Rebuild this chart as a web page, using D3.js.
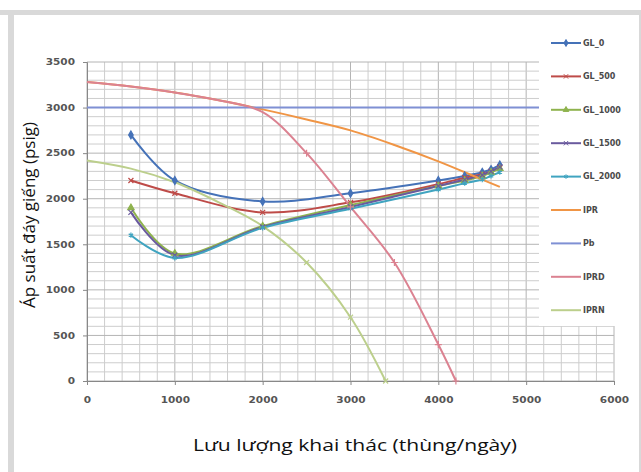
<!DOCTYPE html>
<html>
<head>
<meta charset="utf-8">
<script src="https://cdn.jsdelivr.net/npm/d3@7"></script>
<style>
  body { margin: 0; background: #fff; }
  svg { display: block; }
  .tick-label { font-family: "DejaVu Sans", sans-serif; font-size: 8.5px; fill: #555; font-weight: bold; }
  .legend-label { font-family: "DejaVu Sans", sans-serif; font-size: 8px; fill: #4a4a4a; font-weight: bold; }
  .axis-title { font-family: "Open Sans", sans-serif; font-size: 17px; fill: #111; }
</style>
</head>
<body>
<div id="chart"></div>
<script>
// flow rates (thùng/ngày) for the gas-lift curves
var flowGL = [500, 1000, 2000, 3000, 4000, 4300, 4500, 4600, 4700];
var gl0    = [2700, 2200, 1970, 2060, 2200, 2250, 2290, 2320, 2370];
var gl500  = [2200, 2060, 1850, 1960, 2160, 2230, 2270, 2300, 2340];
var gl1000 = [1900, 1400, 1700, 1930, 2140, 2200, 2250, 2290, 2330];
var gl1500 = [1850, 1380, 1690, 1910, 2140, 2210, 2260, 2300, 2350];
var gl2000 = [1600, 1350, 1680, 1890, 2100, 2170, 2210, 2250, 2290];

var flowIPR = [0, 500, 1000, 1500, 2000, 2500, 3000, 3500, 4000, 4500, 4700];
var ipr     = [3280, 3230, 3165, 3080, 2980, 2870, 2750, 2590, 2410, 2210, 2130];

var flowPb = [0, 6000];
var pb     = [3000, 3000];

var flowIPRD = [0, 500, 1000, 1500, 2000, 2500, 3000, 3500, 4000, 4200];
var iprd     = [3280, 3230, 3165, 3080, 2950, 2500, 1910, 1300, 400, 0];

var flowIPRN = [0, 500, 1000, 1500, 2000, 2500, 3000, 3400];
var iprn     = [2420, 2330, 2180, 1960, 1700, 1300, 700, 0];

var xTicks = [0, 1000, 2000, 3000, 4000, 5000, 6000];
var yTicks = [0, 500, 1000, 1500, 2000, 2500, 3000, 3500];

function zip(xs, ys) {
    return xs.map(function (x, i) { return {x: x, y: ys[i]}; });
}

var series = [
    {name: 'GL_0',    color: '#4572b8', data: zip(flowGL, gl0),    symbol: d3.symbolDiamond, fill: true},
    {name: 'GL_500',  color: '#be4b48', data: zip(flowGL, gl500),  symbol: d3.symbolTimes || d3.symbolCross},
    {name: 'GL_1000', color: '#8fb34e', data: zip(flowGL, gl1000), symbol: d3.symbolTriangle, fill: true},
    {name: 'GL_1500', color: '#6a5a9e', data: zip(flowGL, gl1500), symbol: d3.symbolTimes || d3.symbolCross},
    {name: 'GL_2000', color: '#40a4c0', data: zip(flowGL, gl2000), symbol: d3.symbolAsterisk || d3.symbolCross},
    {name: 'IPR',     color: '#f09545', data: zip(flowIPR, ipr)},
    {name: 'Pb',      color: '#7f90d4', data: zip(flowPb, pb)},
    {name: 'IPRD',    color: '#db8291', data: zip(flowIPRD, iprd), symbol: d3.symbolPlus || d3.symbolCross, markAfter: 2200},
    {name: 'IPRN',    color: '#bccf8c', data: zip(flowIPRN, iprn), symbol: d3.symbolTimes || d3.symbolCross, markAfter: 2200}
];

var width = 641, height = 472;
var stretch = 1.24;  // the reference text is a little wider than it is tall

var svg = d3.select('#chart').append('svg')
    .attr('width', width)
    .attr('height', height);

// outer frame
svg.append('rect').attr('x', 0).attr('y', 10).attr('width', width).attr('height', 5).attr('fill', '#d9d9d9');
svg.append('rect').attr('x', 8).attr('y', 10).attr('width', 6).attr('height', height - 10).attr('fill', '#d9d9d9');
svg.append('rect').attr('x', 639).attr('y', 10).attr('width', 2).attr('height', height - 10).attr('fill', '#d9d9d9');

var x = d3.scaleLinear().domain([0, 6000]).range([87, 614]);
var y = d3.scaleLinear().domain([0, 3500]).range([381, 62]);

// grid
var grid = svg.append('g').attr('class', 'grid');
grid.selectAll('line.v')
    .data(d3.range(0, 6001, 200))
  .enter().append('line')
    .attr('x1', function (d) { return x(d); })
    .attr('x2', function (d) { return x(d); })
    .attr('y1', y(0))
    .attr('y2', y(3500))
    .attr('stroke', function (d) { return d % 1000 === 0 ? '#b4b4b4' : '#cdcdcd'; })
    .attr('stroke-width', 1);

grid.selectAll('line.h')
    .data(d3.range(0, 3501, 100))
  .enter().append('line')
    .attr('x1', x(0))
    .attr('x2', x(6000))
    .attr('y1', function (d) { return y(d); })
    .attr('y2', function (d) { return y(d); })
    .attr('stroke', function (d) { return d % 500 === 0 ? '#b4b4b4' : '#cdcdcd'; })
    .attr('stroke-width', 1);

// axes
var xAxis = svg.append('g')
    .attr('transform', 'translate(0,' + y(0) + ')')
    .call(d3.axisBottom(x).tickValues(xTicks).tickFormat(d3.format('d')).tickSize(4).tickPadding(12));
var yAxis = svg.append('g')
    .attr('transform', 'translate(' + x(0) + ',0)')
    .call(d3.axisLeft(y).tickValues(yTicks).tickFormat(d3.format('d')).tickSize(4).tickPadding(12));

[xAxis, yAxis].forEach(function (ax) {
    ax.select('.domain').attr('stroke', '#888');
    ax.selectAll('.tick line').attr('stroke', '#888');
    ax.selectAll('.tick text')
        .attr('class', 'tick-label')
        .attr('font-size', null)
        .attr('font-family', null);
});
// widen tick labels around their anchor
xAxis.selectAll('.tick text').attr('transform', 'scale(' + stretch + ',1)');
yAxis.selectAll('.tick text')
    .attr('x', -12 / stretch)
    .attr('transform', 'scale(' + stretch + ',1)');

// series lines
var line = d3.line()
    .x(function (d) { return x(d.x); })
    .y(function (d) { return y(d.y); })
    .curve(d3.curveCatmullRom.alpha(0.5));

var plot = svg.append('g').attr('class', 'plot');

series.forEach(function (s) {
    plot.append('path')
        .datum(s.data)
        .attr('fill', 'none')
        .attr('stroke', s.color)
        .attr('stroke-width', 2)
        .attr('d', line);
});

series.forEach(function (s) {
    if (!s.symbol) return;
    var pts = s.data.filter(function (d) { return !s.markAfter || d.x >= s.markAfter; });
    plot.selectAll(null)
        .data(pts)
      .enter().append('path')
        .attr('transform', function (d) { return 'translate(' + x(d.x) + ',' + y(d.y) + ')'; })
        .attr('d', d3.symbol().type(s.symbol).size(18))
        .attr('fill', s.fill ? s.color : 'none')
        .attr('stroke', s.color)
        .attr('stroke-width', 1.2);
});

// legend (white box covers the grid behind it)
svg.append('rect')
    .attr('x', 539).attr('y', 16)
    .attr('width', 100).attr('height', 310)
    .attr('fill', '#fff');

var legend = svg.append('g').attr('class', 'legend');
var item = legend.selectAll('g')
    .data(series)
  .enter().append('g')
    .attr('transform', function (d, i) { return 'translate(551,' + (43 + i * 33.4) + ')'; });

item.append('line')
    .attr('x1', 0).attr('x2', 30)
    .attr('stroke', function (d) { return d.color; })
    .attr('stroke-width', 2);

item.filter(function (d, i) { return i < 5 && d.symbol; })
    .append('path')
    .attr('transform', 'translate(15,0)')
    .attr('d', function (d) { return d3.symbol().type(d.symbol).size(14)(); })
    .attr('fill', function (d) { return d.fill ? d.color : 'none'; })
    .attr('stroke', function (d) { return d.color; })
    .attr('stroke-width', 1);

item.append('text')
    .attr('class', 'legend-label')
    .attr('x', 32)
    .attr('dy', '0.35em')
    .text(function (d) { return d.name; });

// axis titles
var xTitle = svg.append('text')
    .attr('class', 'axis-title')
    .attr('x', 355)
    .attr('y', 451)
    .attr('text-anchor', 'middle')
    .text('Lưu lượng khai thác (thùng/ngày)');
xTitle.attr('textLength', xTitle.node().getComputedTextLength() * stretch)
    .attr('lengthAdjust', 'spacingAndGlyphs');

svg.append('text')
    .attr('class', 'axis-title')
    .attr('transform', 'translate(35,215) rotate(-90)')
    .attr('text-anchor', 'middle')
    .text('Áp suất đáy giếng (psig)');
</script>
</body>
</html>
